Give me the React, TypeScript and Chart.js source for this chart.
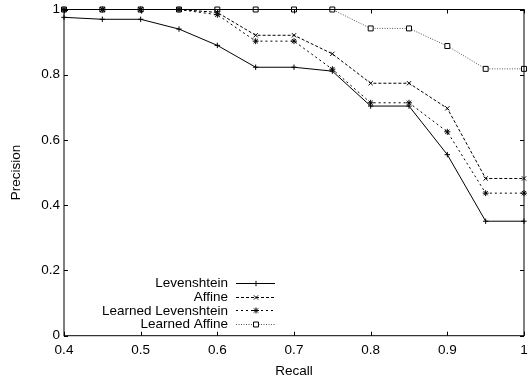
import React, { useEffect, useRef } from "react";
import { Chart, registerables } from "chart.js";

Chart.register(...registerables);

const recall = [0.4, 0.45, 0.5, 0.55, 0.6, 0.65, 0.7, 0.75, 0.8, 0.85, 0.9, 0.95, 1.0];
const levenshtein = [0.976, 0.97, 0.97, 0.94, 0.89, 0.823, 0.823, 0.811, 0.704, 0.704, 0.555, 0.351, 0.351];
const affine = [1, 1, 1, 1, 0.991, 0.921, 0.921, 0.864, 0.774, 0.774, 0.697, 0.482, 0.482];
const learnedLevenshtein = [1, 1, 1, 1, 0.984, 0.903, 0.903, 0.817, 0.714, 0.714, 0.625, 0.437, 0.437];
const learnedAffine = [1, 1, 1, 1, 1, 1, 1, 1, 0.942, 0.942, 0.888, 0.818, 0.818];
const xTicks = [0.4, 0.5, 0.6, 0.7, 0.8, 0.9, 1.0];
const yTicks = [0, 0.2, 0.4, 0.6, 0.8, 1.0];

const FONT = "'Liberation Sans', Arial, sans-serif";
const FS = 13.5;
const LEGEND_Y = [283, 296.7, 310.4, 324.1];

const toXY = (ys: number[]) => ys.map((y, i) => ({ x: recall[i], y }));

const framePlugin = {
  id: "frame",
  afterDatasetsDraw(chart: any) {
    const { ctx, chartArea: a, scales } = chart;
    ctx.save();
    ctx.strokeStyle = "#000";
    ctx.lineWidth = 1;
    ctx.strokeRect(a.left, a.top, a.right - a.left, a.bottom - a.top);
    const tl = 4;
    ctx.beginPath();
    xTicks.forEach((v) => {
      const px = Math.round(scales.x.getPixelForValue(v)) + 0.5;
      ctx.moveTo(px, a.bottom);
      ctx.lineTo(px, a.bottom - tl);
      ctx.moveTo(px, a.top);
      ctx.lineTo(px, a.top + tl);
    });
    yTicks.forEach((v) => {
      const py = Math.round(scales.y.getPixelForValue(v)) + 0.5;
      ctx.moveTo(a.left, py);
      ctx.lineTo(a.left + tl, py);
      ctx.moveTo(a.right, py);
      ctx.lineTo(a.right - tl, py);
    });
    ctx.stroke();

    // legend (gnuplot style, bottom-left inside)
    const textRight = 228;
    const x0 = 236;
    const x1 = 275;
    ctx.font = FS + "px " + FONT;
    ctx.textAlign = "right";
    ctx.textBaseline = "middle";
    chart.data.datasets.forEach((ds: any, i: number) => {
      const y = LEGEND_Y[i];
      ctx.fillStyle = "#000";
      ctx.fillText(ds.label, textRight, y + 0.5);
      ctx.save();
      ctx.strokeStyle = ds.borderColor;
      ctx.lineWidth = ds.borderWidth;
      ctx.setLineDash(ds.borderDash || []);
      ctx.beginPath();
      ctx.moveTo(x0, Math.round(y) + 0.5);
      ctx.lineTo(x1, Math.round(y) + 0.5);
      ctx.stroke();
      ctx.restore();
    });
    ctx.restore();
  },
};

const legendMarkerPlugin = {
  id: "legendMarkers",
  afterDraw(chart: any) {
    const { ctx } = chart;
    chart.data.datasets.forEach((ds: any, i: number) => {
      const meta = chart.getDatasetMeta(i);
      const el = meta.data[0];
      if (!el) return;
      const orig = { x: el.x, y: el.y };
      el.x = 256;
      el.y = Math.round(LEGEND_Y[i]) + 0.5;
      el.draw(ctx);
      el.x = orig.x;
      el.y = orig.y;
    });
  },
};

export default function App() {
  const ref = useRef<HTMLCanvasElement | null>(null);
  useEffect(() => {
    document.body.style.margin = "0";
    const canvas = ref.current!;
    const mk = (label: string, data: number[], dash: number[], style: string, color: string, pbg: string, r: number) => ({
      label,
      data: toXY(data),
      borderColor: color,
      borderWidth: 1,
      borderDash: dash,
      pointStyle: style,
      pointRadius: r,
      pointBorderColor: "#000",
      pointBackgroundColor: pbg,
      pointBorderWidth: 1,
      fill: false,
      tension: 0,
      clip: false,
    });
    const chart = new Chart(canvas, {
      type: "line",
      data: {
        datasets: [
          mk("Levenshtein", levenshtein, [], "cross", "#000", "#000", 2.7),
          mk("Affine", affine, [3, 2], "crossRot", "#000", "#000", 3),
          mk("Learned Levenshtein", learnedLevenshtein, [2, 3], "star", "#000", "#000", 3),
          mk("Learned Affine", learnedAffine, [1, 1.5], "rect", "#555", "#fff", 3.5),
        ] as any,
      },
      plugins: [framePlugin, legendMarkerPlugin],
      options: {
        responsive: false,
        animation: false,
        events: [],
        layout: { padding: { top: 9.5, right: 1, left: 0, bottom: 0 } },
        plugins: { legend: { display: false }, tooltip: { enabled: false } },
        scales: {
          x: {
            type: "linear",
            min: 0.4,
            max: 1.0,
            afterBuildTicks: (s: any) => {
              s.ticks = xTicks.map((v) => ({ value: v }));
            },
            afterFit: (s: any) => {
              s.height = 43.3;
              s.paddingLeft = 0;
              s.paddingRight = 0;
            },
            grid: { display: false, drawTicks: false },
            border: { display: false },
            ticks: {
              padding: 6.5,
              color: "#000",
              maxRotation: 0,
              autoSkip: false,
              font: { family: FONT, size: FS },
              callback: (v: any) => String(Number(Number(v).toFixed(1))),
            },
            title: {
              display: true,
              text: "Recall",
              color: "#000",
              font: { family: FONT, size: FS },
              padding: { top: 0, bottom: 0 },
            },
          },
          y: {
            type: "linear",
            min: 0,
            max: 1,
            afterBuildTicks: (s: any) => {
              s.ticks = yTicks.map((v) => ({ value: v }));
            },
            afterFit: (s: any) => {
              s.width = 64;
              s.paddingTop = 0;
              s.paddingBottom = 0;
            },
            grid: { display: false, drawTicks: false },
            border: { display: false },
            ticks: {
              padding: 4,
              color: "#000",
              autoSkip: false,
              font: { family: FONT, size: FS },
              callback: (v: any) => String(Number(Number(v).toFixed(1))),
            },
            title: {
              display: true,
              text: "Precision",
              color: "#000",
              font: { family: FONT, size: FS },
              padding: { top: 8.5, bottom: 0 },
            },
          },
        },
      } as any,
    });
    return () => chart.destroy();
  }, []);
  return (
    <div style={{ width: 529, height: 379 }}>
      <canvas ref={ref} width={529} height={379} style={{ display: "block", width: 529, height: 379 }} />
    </div>
  );
}
